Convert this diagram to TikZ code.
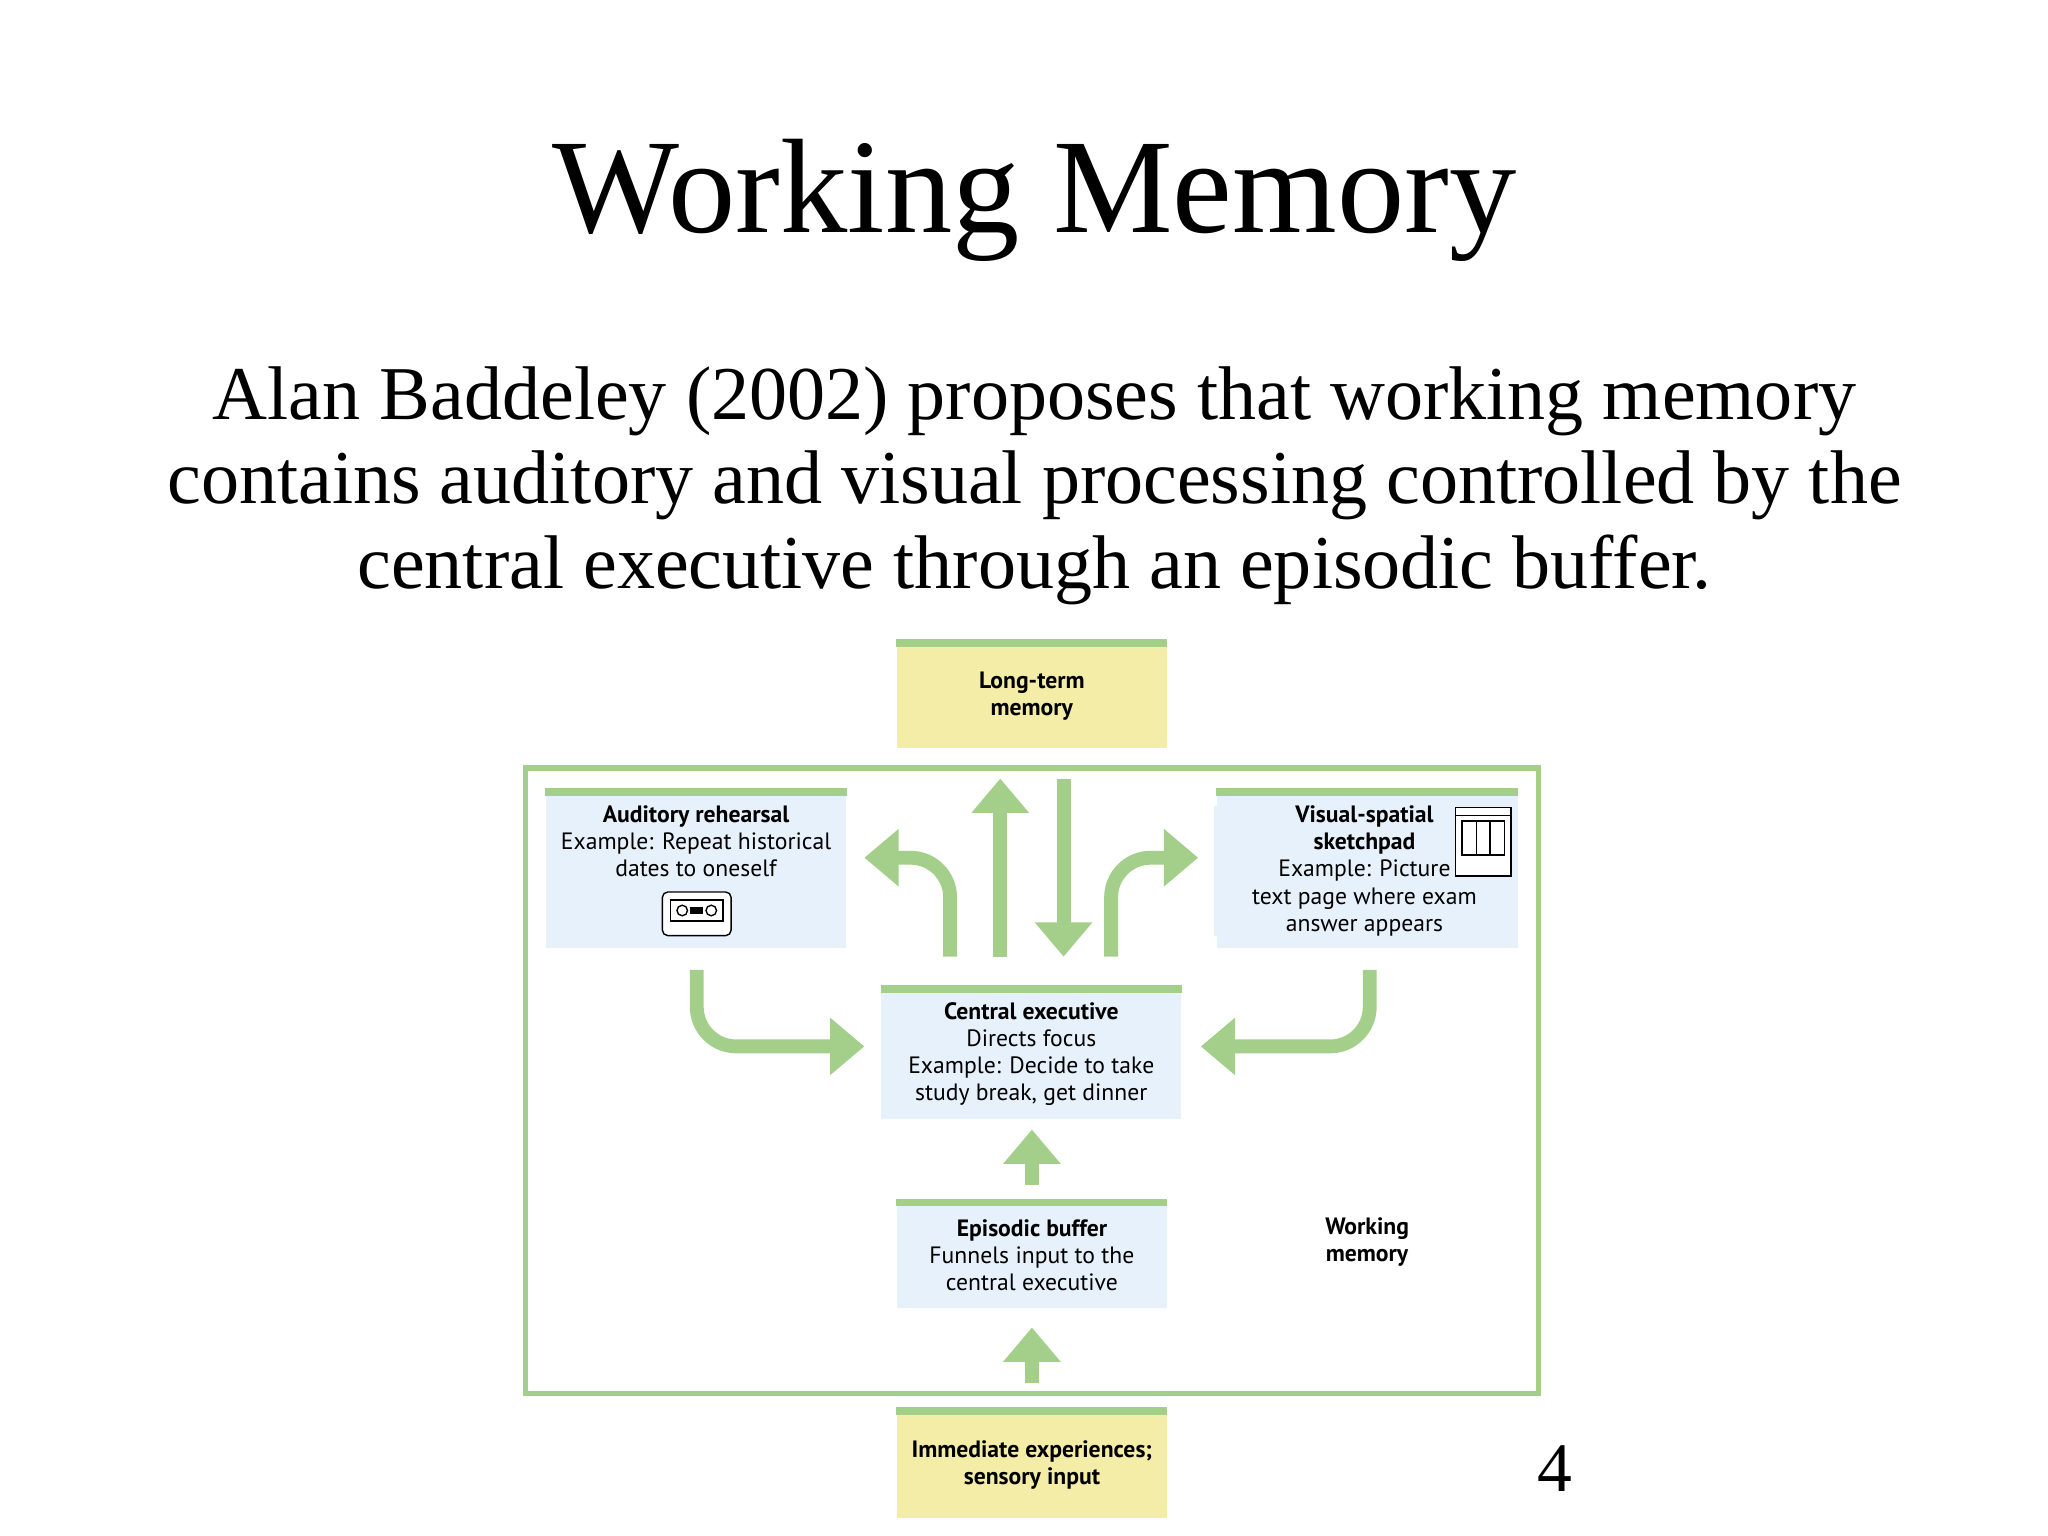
\documentclass[tikz,border=0pt]{standalone}
\usepackage{fontspec}
\setmainfont{Liberation Serif}
\newfontfamily\boxfont{PT Sans}
\usetikzlibrary{arrows.meta}
\definecolor{wmgreen}{HTML}{A3CF8A}
\definecolor{wmyellow}{HTML}{F4EDA8}
\definecolor{wmblue}{HTML}{E7F1FB}
\tikzset{
  stage/.style={fill=wmblue, minimum width=#1, inner sep=0pt, align=center,
    font=\boxfont\fontsize{5.1}{5.85}\selectfont},
  store/.style={stage=#1, fill=wmyellow},
  flow/.style={line width=1.05mm, draw=wmgreen, rounded corners=3mm,
    -{Triangle[length=2.6mm,width=4.2mm]}},
}
\newcommand{\topline}[1]{\draw[wmgreen, line width=0.6mm] (#1.north west) -- (#1.north east);}
\begin{document}
\begin{tikzpicture}[x=1cm,y=-1cm]
\useasboundingbox (0,0) rectangle (15.52,11.64);
% title and text
\node[font=\fontsize{29}{34}\selectfont] (title) at (7.84,1.52) {Working Memory};
\node[align=center, font=\fontsize{16.4}{18.2}\selectfont] (intro) at (7.84,3.68) {%
  Alan Baddeley (2002) proposes that working memory\\
  contains auditory and visual processing controlled by the\\
  central executive through an episodic buffer.};
% working memory frame
\draw[wmgreen, line width=0.4mm] (3.98,5.82) rectangle (11.66,10.56);
% boxes
\node[store=2.04cm, minimum height=0.79cm] (ltm) at (7.82,5.275) {\textbf{Long-term}\\\textbf{memory}};
\node[stage=2.27cm, minimum height=1.18cm, anchor=north] (aud) at (5.275,6.0) {};
\node[anchor=north, stage=2.27cm] (audtxt) at (5.275,6.1) {\textbf{Auditory rehearsal}\\Example: Repeat historical\\dates to oneself};
\node[stage=2.28cm, minimum height=1.18cm, anchor=north] (vis) at (10.36,6.0) {};
\node[anchor=north, stage=2.28cm] (vistxt) at (10.34,6.1) {\textbf{Visual-spatial}\\\textbf{sketchpad}\\Example: Picture\\text page where exam\\answer appears};
\node[stage=2.27cm, minimum height=0.98cm] (ce) at (7.815,7.99) {\textbf{Central executive}\\Directs focus\\Example: Decide to take\\study break, get dinner};
\node[stage=2.04cm, minimum height=0.79cm] (eb) at (7.82,9.515) {\textbf{Episodic buffer}\\Funnels input to the\\central executive};
\node[store=2.04cm, minimum height=0.80cm] (imm) at (7.82,11.1) {\textbf{Immediate experiences;}\\\textbf{sensory input}};
\node[align=center, font=\boxfont\fontsize{5.1}{5.85}\selectfont] (wm) at (10.36,9.41) {\textbf{Working}\\\textbf{memory}};
\node[font=\fontsize{15}{18}\selectfont] (page) at (11.78,11.13) {4};
\foreach \b in {ltm,aud,vis,ce,eb,imm} {\topline{\b}}
% cassette icon
\draw[line width=0.3pt, rounded corners=0.4mm, fill=white] (5.02,6.76) rectangle (5.54,7.09);
\draw[line width=0.3pt] (5.08,6.82) rectangle (5.48,6.98);
\draw[line width=0.3pt] (5.17,6.9) circle (0.4mm) (5.39,6.9) circle (0.4mm);
\fill (5.23,6.87) rectangle (5.33,6.93);
% sketchpad icon
\draw[line width=0.35pt, fill=white] (11.03,6.12) rectangle (11.45,6.64);
\draw[line width=0.35pt] (11.03,6.18) -- (11.45,6.18);
\draw[line width=0.35pt] (11.08,6.22) rectangle (11.4,6.48);
\draw[line width=0.35pt] (11.19,6.22) -- (11.19,6.48) (11.29,6.22) -- (11.29,6.48);
% arrows
\coordinate (upA) at (7.58,7.25); \coordinate (upB) at (7.58,5.9);
\coordinate (dnA) at (8.06,5.9); \coordinate (dnB) at (8.06,7.25);
\draw[flow] (upA) -- (upB);
\draw[flow] (dnA) -- (dnB);
\draw[flow] (7.2,7.25) -- (7.2,6.5) -- (6.55,6.5);
\draw[flow] (8.42,7.25) -- (8.42,6.5) -- (9.08,6.5);
\draw[flow] (5.28,7.35) -- (5.28,7.93) -- (6.55,7.93);
\draw[flow] (10.38,7.35) -- (10.38,7.93) -- (9.1,7.93);
\draw[flow] (7.82,8.98) -- (7.82,8.56);
\draw[flow] (7.82,10.48) -- (7.82,10.06);
\end{tikzpicture}
\end{document}
